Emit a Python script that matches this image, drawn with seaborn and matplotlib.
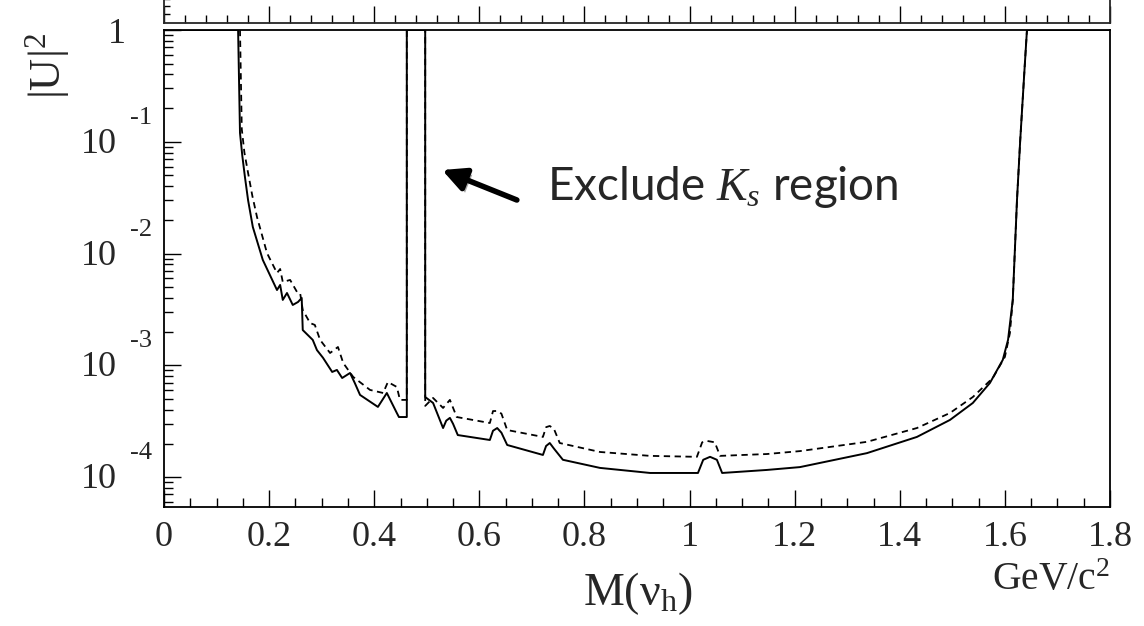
import pandas as pd
import seaborn as sns
import matplotlib.pyplot as plt
import matplotlib.ticker as mticker
import matplotlib.patheffects as pe

# 上限曲线 (实线)
mass_solid = [0.000, 0.141, 0.1446, 0.149, 0.154, 0.160, 0.169, 0.188, 0.215, 0.221, 0.226, 0.234,
              0.245, 0.255, 0.262, 0.264, 0.283, 0.291, 0.3025, 0.320, 0.329, 0.339,
              0.354, 0.363, 0.373, 0.407, 0.424, 0.443, 0.447, 0.462, 0.462, 0.497,
              0.497, 0.512, 0.531, 0.537, 0.544, 0.550, 0.559, 0.620, 0.626, 0.634,
              0.642, 0.653, 0.721, 0.727, 0.734, 0.742, 0.759, 0.8295, 0.925, 1.016,
              1.026, 1.039, 1.052, 1.062, 1.147, 1.210, 1.3375, 1.4326, 1.4955, 1.539,
              1.5715, 1.596, 1.606, 1.615, 1.623, 1.629, 1.638, 1.642, 1.800]
u2_solid = [1.0, 1.0, 0.12, 0.075, 0.0484, 0.030, 0.0173, 0.00877, 0.00472, 0.00524, 0.00385, 0.00444,
            0.00347, 0.00369, 0.00401, 0.00207, 0.00169, 0.00137, 0.00117, 0.000873, 0.000910, 0.000771,
            0.000855, 0.000696, 0.000544, 0.000425, 0.000566, 0.000375, 0.000345, 0.000345, 1.0, 1.0,
            0.000521, 0.000461, 0.000275, 0.00032, 0.000339, 0.00030, 0.000238, 0.000215, 0.00026, 0.000275,
            0.00025, 0.000194, 0.000158, 0.00019, 0.000202, 0.00018, 0.000143, 0.000121, 0.000109, 0.000109,
            0.000143, 0.000152, 0.000143, 0.000109, 0.000116, 0.000123, 0.000164, 0.000229, 0.000325, 0.000461,
            0.000696, 0.00112, 0.00169, 0.00385, 0.030, 0.1, 0.5, 1.0, 1.0]

# 预期灵敏度 (虚线)
mass_dashed = [0.000, 0.1446, 0.148, 0.153, 0.160, 0.168, 0.177, 0.196, 0.215, 0.221, 0.226, 0.240,
               0.253, 0.259, 0.264, 0.278, 0.287, 0.297, 0.316, 0.331, 0.341, 0.360,
               0.392, 0.417, 0.426, 0.443, 0.449, 0.462, 0.462, 0.497, 0.497, 0.512,
               0.531, 0.544, 0.557, 0.620, 0.626, 0.634, 0.642, 0.653, 0.721, 0.727,
               0.734, 0.742, 0.753, 0.8295, 0.925, 1.014, 1.024, 1.033, 1.048, 1.058,
               1.147, 1.210, 1.3375, 1.4326, 1.4955, 1.539, 1.577, 1.600, 1.6096, 1.615,
               1.623, 1.629, 1.638, 1.642, 1.800]
u2_dashed = [1.0, 1.0, 0.13, 0.08, 0.0526, 0.033, 0.0212, 0.0101, 0.0067, 0.00728, 0.00557, 0.00581,
             0.00454, 0.00444, 0.00313, 0.00239, 0.00230, 0.00169, 0.00129, 0.00146, 0.00105, 0.000788,
             0.000603, 0.000566, 0.000710, 0.000641, 0.000491, 0.000491, 1.0, 1.0, 0.000434, 0.000511,
             0.000416, 0.000491, 0.000345, 0.000305, 0.00039, 0.000391, 0.00037, 0.000264, 0.000229, 0.00028,
             0.000287, 0.00027, 0.000202, 0.000168, 0.000155, 0.000152, 0.000205, 0.000211, 0.000205, 0.000155,
             0.000161, 0.000171, 0.000207, 0.000275, 0.000375, 0.000521, 0.000771, 0.00119, 0.00195, 0.00385,
             0.030, 0.1, 0.5, 1.0, 1.0]

x_ticks = [0, 0.2, 0.4, 0.6, 0.8, 1.0, 1.2, 1.4, 1.6, 1.8]
x_ticklabels = ['0', '0.2', '0.4', '0.6', '0.8', '1', '1.2', '1.4', '1.6', '1.8']
y_major = [1, 1e-1, 1e-2, 1e-3, 1e-4]
y_exponents = ['', '-1', '-2', '-3', '-4']

sns.set_style('ticks')
plt.rcParams['font.family'] = ['Liberation Serif', 'DejaVu Serif']
plt.rcParams['mathtext.fontset'] = 'custom'
plt.rcParams['mathtext.rm'] = 'Liberation Serif'
plt.rcParams['mathtext.it'] = 'Liberation Serif:italic'

fig = plt.figure(figsize=(11.44, 6.26), dpi=100)
ax = fig.add_axes([164 / 1144, 1 - 507 / 626, 946 / 1144, 477 / 626])
ax_top = fig.add_axes([164 / 1144, 1 - 23 / 626, 946 / 1144, 0.06])

df_solid = pd.DataFrame({'M': mass_solid, 'U2': u2_solid})
df_dashed = pd.DataFrame({'M': mass_dashed, 'U2': u2_dashed})
sns.lineplot(data=df_solid, x='M', y='U2', estimator=None, sort=False,
             color='black', linewidth=1.4, ax=ax)
sns.lineplot(data=df_dashed, x='M', y='U2', estimator=None, sort=False,
             color='black', linewidth=1.3, linestyle=(0, (3.5, 2.5)), ax=ax)

ax.set_yscale('log')
ax.set_xlim(0, 1.8)
ax.set_ylim(10 ** -4.267, 1)
ax.set_xlabel('')
ax.set_ylabel('')
ax.set_xticks(x_ticks)
ax.set_xticklabels(x_ticklabels)
ax.xaxis.set_minor_locator(mticker.MultipleLocator(0.05))
ax.yaxis.set_major_locator(mticker.FixedLocator(y_major))
ax.yaxis.set_minor_locator(mticker.LogLocator(base=10, subs=range(2, 10), numticks=20))
ax.yaxis.set_minor_formatter(mticker.NullFormatter())
ax.tick_params(which='both', direction='in', top=False, right=False,
               width=1.0, color='black', labelsize=26, pad=10)
ax.tick_params(which='major', length=12)
ax.tick_params(which='minor', length=6.5)
ax.tick_params(axis='y', labelleft=False)
for s in ax.spines.values():
    s.set_linewidth(1.3)
    s.set_color('black')

# ROOT 风格的 10^n 刻度标签
for v, e in zip(y_major, y_exponents):
    if e == '':
        ax.annotate('1', xy=(0, v), xycoords=('axes fraction', 'data'), xytext=(-38, -13),
                    textcoords='offset pixels', ha='right', va='baseline', fontsize=26)
    else:
        ax.annotate('10', xy=(0, v), xycoords=('axes fraction', 'data'), xytext=(-47, -11),
                    textcoords='offset pixels', ha='right', va='baseline', fontsize=26)
        ax.annotate(e, xy=(0, v), xycoords=('axes fraction', 'data'), xytext=(-12, 18),
                    textcoords='offset pixels', ha='right', va='baseline', fontsize=19)

# 上方面板的底轴
ax_top.set_xlim(0, 1.8)
ax_top.set_ylim(0, 1)
ax_top.set_xticks(x_ticks)
ax_top.xaxis.set_minor_locator(mticker.MultipleLocator(0.04))
ax_top.set_yticks([0.25, 0.45, 0.65])
ax_top.tick_params(which='both', direction='in', top=False, right=False,
                   labelbottom=False, labelleft=False, width=1.0, color='black')
ax_top.tick_params(axis='x', which='major', length=12)
ax_top.tick_params(axis='x', which='minor', length=6)
ax_top.tick_params(axis='y', length=4)
ax_top.spines['top'].set_visible(False)
for s in ['bottom', 'left', 'right']:
    ax_top.spines[s].set_linewidth(1.3)

# 标注
ax.annotate('', xy=(0.294, 0.7065), xytext=(0.373, 0.6436), xycoords='axes fraction',
            arrowprops=dict(arrowstyle='-|>,head_length=0.7,head_width=0.35', lw=4,
                            color='black', shrinkA=0, shrinkB=0, mutation_scale=20,
                            path_effects=[pe.withSimplePatchShadow(offset=(2, -3), alpha=0.35)]))
ax.text(0.405, 0.6436, r'Exclude $K_s$ region', transform=ax.transAxes,
        fontsize=33, family='Lato', va='baseline', ha='left')

fig.text(638 / 1144, 1 - 605 / 626, r'$\mathregular{M(\nu_h)}$', fontsize=33,
         ha='center', va='baseline')
fig.text(1110 / 1144, 1 - 590 / 626, r'GeV/c$\mathregular{^2}$', fontsize=28.5,
         ha='right', va='baseline')
fig.text(72 / 1144, 1 - 33 / 626, r'$\mathregular{|U|^2}$', fontsize=32,
         rotation=90, ha='right', va='top')

plt.savefig('out.png', dpi=100)
